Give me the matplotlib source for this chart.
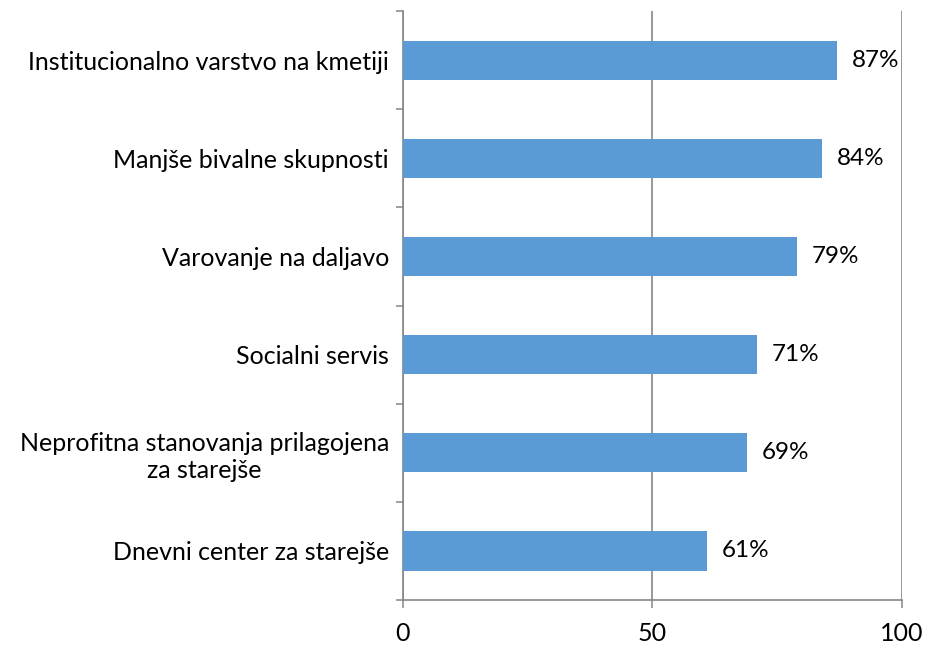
import numpy as np
import matplotlib.pyplot as plt

plt.rcParams['font.family'] = ['Lato', 'DejaVu Sans']

categories = [
    "Institucionalno varstvo na kmetiji",
    "Manjše bivalne skupnosti",
    "Varovanje na daljavo",
    "Socialni servis",
    "Neprofitna stanovanja prilagojena\nza starejše",
    "Dnevni center za starejše",
]
values = [87, 84, 79, 71, 69, 61]
xticks = [0, 50, 100]

bar_color = '#5B9BD5'
axis_color = '#868686'

fig = plt.figure(figsize=(9.26, 6.45), dpi=100)
ax = fig.add_axes([0.435, 0.0698, 0.539, 0.913])

y = np.arange(len(categories))[::-1]
ax.barh(y, values, height=0.4, color=bar_color, zorder=3)
for yi, v in zip(y, values):
    ax.text(v + 3, yi, "{:d}%".format(v), va='center', ha='left', fontsize=17.5, zorder=4)

ax.set_xlim(0, 100)
ax.set_ylim(-0.5, len(categories) - 0.5)
ax.set_xticks(xticks)
ax.set_xticklabels([str(t) for t in xticks], fontsize=18)
ax.set_yticks(y)
ax.set_yticklabels(categories, fontsize=18, multialignment='center')
ax.set_yticks(np.arange(-0.5, len(categories), 1.0), minor=True)

ax.tick_params(axis='y', which='major', length=0, pad=10)
ax.tick_params(axis='y', which='minor', length=5, width=1.1, color=axis_color, direction='out')
ax.tick_params(axis='x', which='major', length=6, width=1.1, color=axis_color, direction='out', pad=10)

ax.xaxis.grid(True, color=axis_color, linewidth=1.2, zorder=0)
for side in ['top', 'right']:
    ax.spines[side].set_visible(False)
for side in ['left', 'bottom']:
    ax.spines[side].set_color(axis_color)
    ax.spines[side].set_linewidth(1.2)

fig.savefig("out.png", dpi=100)
